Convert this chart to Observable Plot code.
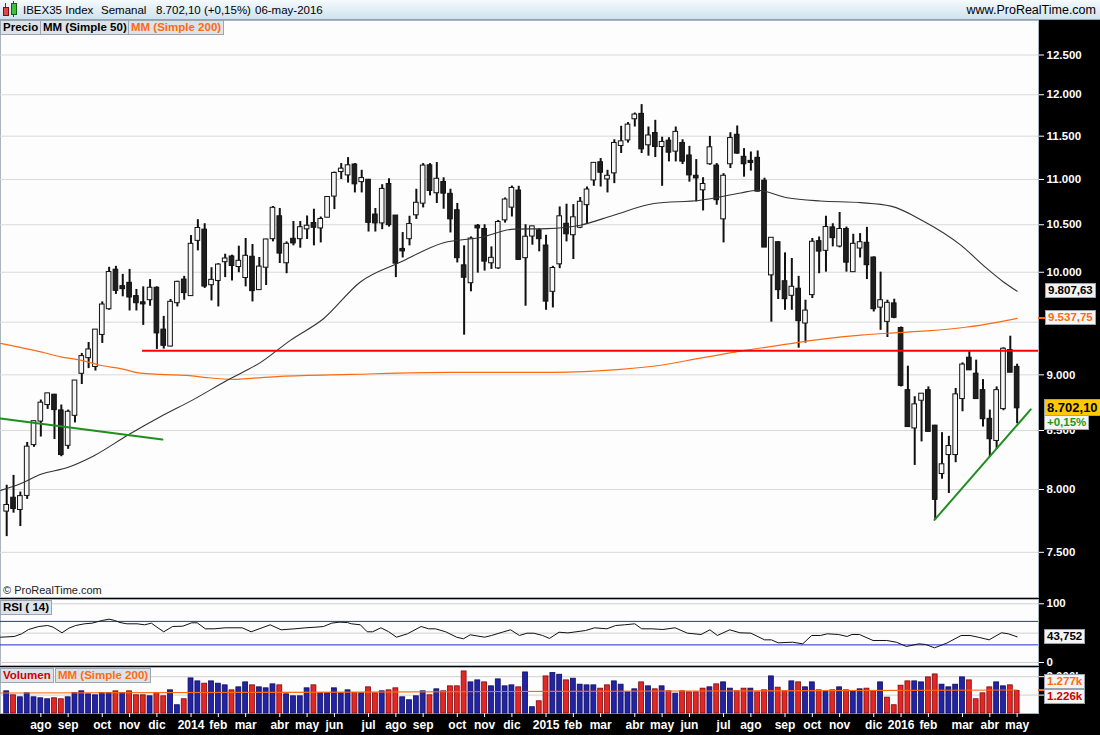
<!DOCTYPE html>
<html lang="es">
<head>
<meta charset="utf-8">
<script src="https://cdn.jsdelivr.net/npm/d3@7"></script>
<script src="https://cdn.jsdelivr.net/npm/@observablehq/plot@0.6"></script>
<style>
  html, body { margin:0; padding:0; background:#000; }
  #root { position:relative; width:1100px; height:735px; background:#000; overflow:hidden;
          font-family:"Liberation Sans", Arial, Helvetica, sans-serif; }
  #header { position:absolute; left:0; top:0; width:1100px; height:20px; box-sizing:border-box;
            background:linear-gradient(#f5fafd, #cfe3ee); border-bottom:1px solid #8fa3b0; }
  #header span { position:absolute; top:3px; line-height:14px; font-size:11.5px; color:#000; white-space:nowrap; }
  .panel { position:absolute; left:0; }
  .tab { position:absolute; height:13px; line-height:13px; font-size:11.5px; font-weight:bold; padding:0 2px;
         background:#dde3e9; border:1px solid #9aa6b2; white-space:nowrap; }
  .box { position:absolute; font-weight:bold; padding:0 2px; border:1px solid #9aa3ac;
         background:#f3f3f3; white-space:nowrap; }
  .mark { position:absolute; }
  svg { display:block; }
</style>
</head>
<body>
<div id="root">
  <div id="header">
    <div class="mark" style="left:5px;top:3px;width:1px;height:13px;background:#444"></div>
    <div class="mark" style="left:3px;top:7px;width:4px;height:7px;background:#e04848;border:1px solid #7a1010"></div>
    <div class="mark" style="left:13px;top:1px;width:1px;height:16px;background:#444"></div>
    <div class="mark" style="left:11px;top:3px;width:4px;height:10px;background:#40c040;border:1px solid #106010"></div>
    <span id="hName" style="left:23px"></span>
    <span id="hPeriod" style="left:101px"></span>
    <span id="hLast" style="left:156px"></span>
    <span id="hDate" style="left:255px"></span>
    <span id="hSite" style="right:4px;font-size:12.5px"></span>
  </div>
  <div id="price" class="panel" style="top:20px"></div>
  <div id="rsi" class="panel" style="top:599px"></div>
  <div id="vol" class="panel" style="top:667px"></div>
</div>
<script>
// ---------------- DATA (weekly candles, IBEX35, week of 1-jul-2013 .. week of 2-may-2016) ----------------
const instrument = "IBEX35 Index";
const period = "Semanal";
const lastDateLabel = "06-may-2016";
const site = "www.ProRealTime.com";
const lastChangePct = [0.15];
const firstWeekMonday = "2013-07-01";
const monthNamesES = ["ene","feb","mar","abr","may","jun","jul","ago","sep","oct","nov","dic"];

const open = [7826,7927,7839,7953,8379,8584,8731,8812,8671,8373,
 8635,9016,9162,9079,9383,9634,10019,9851,9885,9751,
 9689,9724,9835,9421,9272,9694,9918,9765,10335,10440,
 9875,9918,10111,10156,10061,9948,10153,9825,10054,10353,
 10584,10100,10342,10353,10458,10511,10468,10584,10816,11092,
 11054,11162,10978,10989,10603,10522,10941,10592,10235,10353,
 10610,10738,11153,10853,10964,10831,10650,10064,9895,10482,
 10447,10100,10047,10555,10694,10868,10153,10381,10433,10271,
 9808,10089,10503,10395,10475,10721,10997,11188,11008,11077,
 11393,11458,11710,11758,11401,11529,11381,11439,11327,11412,
 11266,11034,10886,11181,11150,10566,11181,11508,11251,11204,
 11239,10978,9975,10306,9901,9768,9825,9494,9775,10317,
 10230,10464,10275,10447,10008,10254,10300,10145,9650,9510,
 9678,9437,8853,8524,8770,8853,8536,8134,8294,8294,
 8785,9153,9004,8853,8596,8415,8695,9225,9067];
const high = [8035,8117,7979,8396,8581,8770,8830,8821,8725,8680,
 8943,9200,9304,9428,9700,10051,10061,9978,10029,9825,
 9851,9925,9851,9557,9724,9908,9958,10384,10555,10511,
 10047,10089,10187,10177,10271,10353,10289,10153,10345,10699,
 10677,10317,10535,10535,10595,10669,10584,10805,11084,11181,
 11250,11181,11104,11000,10677,10941,11008,10592,10416,10592,
 10890,11181,11181,11193,11019,10890,10732,10275,10369,10503,
 10500,10264,10547,10793,10926,10923,10500,10485,10458,10387,
 10061,10694,10724,10720,10798,10915,11181,11239,11104,11458,
 11617,11662,11777,11879,11609,11689,11488,11482,11609,11458,
 11381,11227,11020,11497,11181,11066,11541,11621,11354,11315,
 11327,11014,10353,10317,10201,10142,9958,9717,10353,10369,
 10592,10511,10633,10475,10398,10405,10472,10159,10001,9717,
 9727,9453,9080,8800,8821,8889,8545,8481,8449,8875,
 9111,9216,9137,8956,8680,8889,9253,9364,9099];
const low = [7622,7808,7701,7919,8354,8443,8686,8421,8274,8337,
 8566,8911,9058,9035,9295,9617,9775,9751,9610,9610,
 9469,9657,9238,9241,9263,9650,9717,9755,10222,9835,
 9710,9650,9945,9911,9995,9851,9700,9818,9865,10317,
 10090,9985,10275,10250,10342,10275,10306,10577,10665,11000,
 10959,10849,10849,10422,10422,10447,10475,9945,10148,10275,
 10558,10683,10816,10732,10669,10412,10096,9374,9801,9991,
 10012,10029,10029,10518,10584,10124,9657,10282,10212,9617,
 9640,10037,10317,10132,10458,10511,10923,10915,10849,10953,
 11297,11419,11609,11297,11266,11251,10923,11200,11200,11170,
 10970,10749,10650,11162,10713,10306,11124,11289,11026,11095,
 10860,10264,9500,9724,9617,9617,9250,9298,9734,9985,
 10001,10264,10254,10001,10001,10148,9925,9600,9421,9352,
 9534,8889,8530,8200,8401,8486,7754,8085,7967,8223,
 8665,9042,8776,8530,8269,8337,8674,9026,8560];
const close = [7868,7847,7940,8354,8575,8740,8824,8686,8294,8659,
 8941,9168,9231,9421,9667,9995,9818,9835,9751,9694,
 9682,9835,9398,9279,9694,9895,9795,10289,10458,9861,
 9915,10072,10135,10072,10111,10163,9815,10051,10335,10677,
 10201,10289,10308,10466,10482,10475,10555,10796,11066,11115,
 11153,10953,11008,10528,10522,10886,10503,10096,10224,10500,
 10732,11150,10879,11000,10849,10566,10153,9951,10345,10468,
 10117,10142,10522,10768,10897,10135,10364,10475,10353,9710,
 10037,10584,10405,10573,10743,10879,11181,11084,11034,11412,
 11431,11629,11750,11354,11500,11381,11424,11315,11543,11211,
 11054,11020,10941,11361,10776,11034,11470,11304,11181,11196,
 10871,10264,10353,9825,9734,9845,9517,9607,10311,10222,
 10468,10364,10447,10106,10289,10306,10080,9634,9710,9684,
 9550,8905,8536,8725,8821,8494,7921,8204,8359,8815,
 9089,9048,8785,8605,8430,8853,9238,9026,8702.10];
// weekly volume, in thousands ("k")
const volume = [1205,989,881,1097,881,827,773,827,773,881,
 1115,1205,1043,989,1115,1115,1205,1115,1205,989,
 989,935,1115,935,1259,449,773,1908,1746,1620,
 1746,1620,1530,1259,1422,1692,1530,1422,1368,1584,
 1530,1043,935,935,1368,1530,1115,1115,1368,1097,
 1259,1115,1097,1422,1097,1205,1259,1368,881,719,
 935,1205,989,1314,1205,1476,1476,2286,1692,1800,
 1692,1476,1854,1476,1530,1422,2232,341,665,2016,
 2196,2106,1800,1890,1566,1530,1530,1350,1530,1746,
 1566,1151,1314,1692,1476,1314,1476,1205,1079,1205,
 1151,1151,1350,1422,1584,1692,1350,1205,1350,1350,
 1151,1259,2016,1404,1205,1746,1692,1422,1692,1259,
 1205,1259,1422,1259,1205,1314,1350,1205,1692,863,
 449,1512,1746,1746,1692,1962,2124,1566,1422,1566,
 1962,1800,773,1097,1422,1692,1476,1530,1226];

// moving averages (week index -> value)
const ma50Week  = [-0.9,2,5,8.9,12.8,17.7,22.5,27.4,32.3,37.2,41.6,46.4,51.8,57.7,64,69.4,74.3,79.2,84,88.9,94.8,101.6,107.5,109.9,114.3,119.2,125.1,129.5,134.3,139.7,143.6,146,148];
const ma50Value = [7993,8047,8126,8183,8283,8458,8620,8776,8950,9116,9327,9534,9901,10106,10308,10364,10453,10458,10495,10603,10732,10768,10849,10879,10796,10759,10741,10703,10538,10285,10037,9901,9807.63];
const ma200Week  = [-0.9,2,5,7.9,10.8,13.7,16.7,19.6,22.5,26.4,29.4,33.3,36.2,40.1,50.4,65,79.7,89.9,95.8,101.6,107.5,113.3,119.2,125.1,129.9,134.8,140.7,144.6,148];
const ma200Value = [9295,9257,9215,9168,9137,9089,9058,9016,9004,8995,8974,8959,8970,8986,9004,9023,9023,9051,9089,9156,9222,9279,9333,9374,9396,9415,9453,9494,9537.75];

// RSI(14)
const rsiWeek = [-0.9,1.1,2.2,3.2,4.7,6.0,6.8,8.1,9.1,10.1,11.4,12.5,14.0,15.0,15.8,16.6,17.6,19.1,20.2,21.2,22.0,23.0,24.3,25.8,27.1,27.9,29.1,30.4,32.0,34.5,35.8,37.4,38.6,40.2,42.2,43.8,45.3,46.4,47.6,48.7,49.9,50.5,51.8,52.8,53.6,54.8,55.9,57.1,58.7,60.7,61.8,62.8,64.3,65.9,66.9,67.9,70.0,71.0,72.6,73.8,75.1,76.2,77.2,78.5,79.5,80.9,82.2,84.8,86.1,87.9,89.2,90.5,92.0,93.0,94.5,96.1,97.9,99.7,101.7,103.0,104.1,105.9,107.4,109.0,111.0,112.0,113.0,115.1,116.6,117.9,119.2,120.2,121.8,123.1,123.8,124.9,126.9,128.9,130.3,131.8,133.6,134.6,135.9,137.7,139.8,141.1,142.3,143.9,145.7,146.7,148];
const rsiValue = [43.1,44.3,48.9,56.2,61.3,63,60.2,50.6,58.4,63,65.9,67,71.6,73.8,71.6,68.1,65.9,65.9,64.2,67,60.2,52.3,61.3,61.9,67.6,67.6,57.4,57.4,59.1,59.1,52.3,59.1,64.2,55.7,57.4,59.1,60.2,61.3,67,68.7,68.1,65.9,64.2,52.3,52.3,59.1,52.8,43.1,48.9,61.3,57.4,57.4,52.3,43.1,40.4,47.2,43.1,46,51.6,55.7,46,49.9,49.9,46,41,51.6,50.4,54.5,59.1,57.4,63,64.2,65.9,57.4,57.4,56.2,59.1,50,47.7,55.7,46,55.7,50.6,50,38.6,38.6,33.5,34.6,31.8,46,46,48.9,47.7,44.3,47.7,47.7,37.5,37.5,34.6,27.3,31.8,30.7,25,33,46,46,43.1,38.6,50.6,48.9,43.752];
const rsiLevels = [30, 70];

// volume moving average (200)
const volMaWeek  = [-0.9, 40, 80, 120, 148];
const volMaValue = [1114, 1150, 1205, 1240, 1277];

// hand-drawn lines (week index, price)
const supportLevel = [9225];
const supportFrom = [19.9];
const trendAWeek = [-0.91, 22.8];
const trendAValue = [8605, 8421];
const trendBWeek = [135.9, 150];
const trendBValue = [7754, 8686];

// axis ticks (9.500 is hidden behind the MM200 value box in the original)
const priceGrid = [7500, 8000, 8500, 9000, 9500, 10000, 10500, 11000, 11500, 12000, 12500];
const priceTickLabels = [7500, 8000, 8500, 9000, 10000, 10500, 11000, 11500, 12000, 12500];
const rsiTicks = [0, 100];
const rsiGrid = [0, 50, 100];
const volTicks = [1000, 2000];

// ---------------- BUILD ----------------
const FONT = '"Liberation Sans", Arial, Helvetica, sans-serif';
const XMIN = -0.908, XMAX = 151.13;
const W = 1100, MR = 62;
const es = d3.formatLocale({decimal: ",", thousands: ".", grouping: [3], currency: ["", "€"]});
const fmtInt = es.format(",.0f"), fmt2 = es.format(",.2f"), fmt3 = es.format(",.3f");
const fmtPct = v => (v >= 0 ? "+" : "") + es.format(",.2f")(v) + "%";

const candles = open.map((o, i) => ({i, o, h: high[i], l: low[i], c: close[i]}));
const vols = volume.map((v, i) => ({i, v, up: i === 0 || close[i] >= close[i - 1]}));
const zip = (a, b) => a.map((x, k) => ({i: x, v: b[k]}));
const ma50 = zip(ma50Week, ma50Value), ma200 = zip(ma200Week, ma200Value);
const rsi = zip(rsiWeek, rsiValue), volMa = zip(volMaWeek, volMaValue);
const trendA = zip(trendAWeek, trendAValue), trendB = zip(trendBWeek, trendBValue);
const support = supportLevel.map((v, k) => ({v, i1: supportFrom[k], i2: XMAX}));

const start = Date.parse(firstWeekMonday + "T00:00:00Z");
const weekDates = open.map((_, i) => new Date(start + i * 7 * 864e5));
const monthTicks = weekDates.map((d, i) => i).filter(i => i > 0 && weekDates[i].getUTCMonth() !== weekDates[i - 1].getUTCMonth());
const tickLabel = i => { const d = weekDates[i]; return d.getUTCMonth() === 0 ? String(d.getUTCFullYear()) : monthNamesES[d.getUTCMonth()]; };

const svgStyle = `background:#000;color:#fff;font-family:${FONT};font-size:11.5px;font-weight:bold;overflow:visible;`;
const axisOpts = {anchor: "right", tickSize: 5, tickPadding: 3, fontSize: 11.5, fontWeight: "bold", label: null};

const priceChart = Plot.plot({
  width: W, height: 577, marginTop: 0, marginBottom: 0, marginLeft: 0, marginRight: MR,
  style: svgStyle,
  x: {domain: [XMIN, XMAX], axis: null, label: null},
  y: {type: "log", domain: [7160, 12951], label: null},
  marks: [
    Plot.frame({fill: "#fdfdfd", stroke: "#aab4be"}),
    Plot.gridY(priceGrid, {stroke: "#d9d9d9", strokeOpacity: 1}),
    Plot.axisY(priceTickLabels, {...axisOpts, tickFormat: fmtInt}),
    Plot.ruleX(candles, {x: "i", y1: "l", y2: "h", stroke: "#111", strokeWidth: 2}),
    Plot.rect(candles, {x1: d => d.i - 0.34, x2: d => d.i + 0.34, y1: "o", y2: "c",
      insetTop: -0.7, insetBottom: -0.7,
      fill: d => d.c >= d.o ? "#f6f6f6" : "#1e1e1e", stroke: "#111", strokeWidth: 1}),
    Plot.line(ma200, {x: "i", y: "v", stroke: "#ff6a10", strokeWidth: 1.2, curve: "monotone-x"}),
    Plot.line(ma50, {x: "i", y: "v", stroke: "#333", strokeWidth: 1.1, curve: "monotone-x"}),
    Plot.ruleY(support, {y: "v", x1: "i1", x2: "i2", stroke: "#ff0000", strokeWidth: 2}),
    Plot.line(trendA, {x: "i", y: "v", stroke: "#1f8f1f", strokeWidth: 2}),
    Plot.line(trendB, {x: "i", y: "v", stroke: "#1f8f1f", strokeWidth: 2})
  ]
});
document.getElementById("price").appendChild(priceChart);

const rsiChart = Plot.plot({
  width: W, height: 66, marginTop: 0, marginBottom: 0, marginLeft: 0, marginRight: MR,
  style: svgStyle,
  x: {domain: [XMIN, XMAX], axis: null, label: null},
  y: {domain: [-5.1, 107.3], label: null},
  marks: [
    Plot.frame({fill: "#fdfdfd", stroke: "#aab4be"}),
    Plot.gridY(rsiGrid, {stroke: "#d0d0d0", strokeOpacity: 1}),
    Plot.ruleY(rsiLevels, {stroke: "#2a2ad4", strokeWidth: 1}),
    Plot.line(rsi, {x: "i", y: "v", stroke: "#111", strokeWidth: 1}),
    Plot.axisY(rsiTicks, axisOpts)
  ]
});
document.getElementById("rsi").appendChild(rsiChart);

const volChart = Plot.plot({
  width: W, height: 68, marginTop: 0, marginBottom: 22, marginLeft: 0, marginRight: MR,
  style: svgStyle,
  x: {domain: [XMIN, XMAX], label: null},
  y: {domain: [0, 2500], label: null},
  marks: [
    Plot.frame({fill: "#fdfdfd", stroke: "#aab4be"}),
    Plot.gridY(volTicks, {stroke: "#d0d0d0", strokeOpacity: 1}),
    Plot.rect(vols, {x1: d => d.i - 0.36, x2: d => d.i + 0.36, y1: 0, y2: "v",
      fill: d => d.up ? "#2323a6" : "#e32626", stroke: d => d.up ? "#0c0c5c" : "#7d0a0a", strokeWidth: 0.8}),
    Plot.line(volMa, {x: "i", y: "v", stroke: "#ff6a10", strokeWidth: 1.2, curve: "monotone-x"}),
    Plot.axisY(volTicks, {...axisOpts, tickFormat: v => fmtInt(v) + "k"}),
    Plot.axisX(monthTicks, {anchor: "bottom", tickSize: 4, tickPadding: 3, fontSize: 12, fontWeight: "bold",
      label: null, tickFormat: i => tickLabel(i)})
  ]
});
document.getElementById("vol").appendChild(volChart);

// ---------------- TEXT & LABEL BOXES ----------------
const root = document.getElementById("root");
const lastClose = close[close.length - 1];
document.getElementById("hName").textContent = instrument;
document.getElementById("hPeriod").textContent = period;
document.getElementById("hLast").textContent = `${fmt2(lastClose)} (${fmtPct(lastChangePct[0])})`;
document.getElementById("hDate").textContent = lastDateLabel;
document.getElementById("hSite").textContent = site;

function tab(left, top, text, color) {
  const d = document.createElement("div");
  d.className = "tab";
  d.style.left = left + "px"; d.style.top = top + "px"; d.style.color = color;
  d.textContent = text; root.appendChild(d); return d;
}
tab(0, 20, "Precio", "#000");
tab(40, 20, "MM (Simple 50)", "#000");
tab(128, 20, "MM (Simple 200)", "#ff6a10");
tab(0, 600, "RSI ( 14)", "#000");
tab(0, 668, "Volumen", "#d00000");
tab(55, 668, "MM (Simple 200)", "#ff6a10");

const copy = document.createElement("div");
copy.className = "mark";
Object.assign(copy.style, {left: "3px", top: "583px", fontSize: "11px", color: "#222", lineHeight: "14px"});
copy.textContent = "© ProRealTime.com";
root.appendChild(copy);

function scaleFn(chart, name, log) {
  const s = chart.scale(name);
  if (s && typeof s.apply === "function") return v => s.apply(v);
  const sc = (log ? d3.scaleLog() : d3.scaleLinear()).domain(s.domain).range(s.range);
  return v => sc(v);
}
const yP = scaleFn(priceChart, "y", true), yR = scaleFn(rsiChart, "y"), yV = scaleFn(volChart, "y");

function box(left, centerY, text, color, bg, size, h) {
  const d = document.createElement("div");
  d.className = "box";
  Object.assign(d.style, {left: left + "px", top: (centerY - h / 2 - 1) + "px", color, background: bg,
    fontSize: size + "px", lineHeight: h + "px", height: h + "px"});
  d.textContent = text; root.appendChild(d); return d;
}
function tick(y, color) {
  const d = document.createElement("div");
  d.className = "mark";
  Object.assign(d.style, {left: (W - MR) + "px", top: (y - 1) + "px", width: "7px", height: "2px", background: color});
  root.appendChild(d);
}
const lastMa50 = ma50Value[ma50Value.length - 1], lastMa200 = ma200Value[ma200Value.length - 1];
box(1045, 20 + yP(lastMa50), fmt2(lastMa50), "#000", "#f2f2f2", 11.5, 13);
tick(20 + yP(lastMa200), "#ff6a10");
box(1045, 20 + yP(lastMa200), fmt2(lastMa200), "#ff6a10", "#f7f7f7", 11.5, 13);
const yLast = 20 + yP(lastClose);
box(1044, yLast, fmt2(lastClose), "#000", "#ffc800", 13, 15);
box(1044, yLast + 15.5, fmtPct(lastChangePct[0]), "#1a9a1a", "#f4f4f4", 11.5, 13);

box(1044, 599 + yR(rsiValue[rsiValue.length - 1]), fmt3(rsiValue[rsiValue.length - 1]), "#000", "#f4f4f4", 11.5, 13);

const lastVolMa = volMaValue[volMaValue.length - 1], lastVol = volume[volume.length - 1];
const yv1 = 667 + yV(lastVolMa), yv2 = 667 + yV(lastVol), mid = (yv1 + yv2) / 2;
tick(yv1, "#ff6a10");
box(1044, mid - 8.5, fmtInt(lastVolMa) + "k", "#ff6a10", "#f4f4f4", 11.5, 13);
box(1044, mid + 6.5, fmtInt(lastVol) + "k", "#d00000", "#f4f4f4", 11.5, 13);
</script>
</body>
</html>
